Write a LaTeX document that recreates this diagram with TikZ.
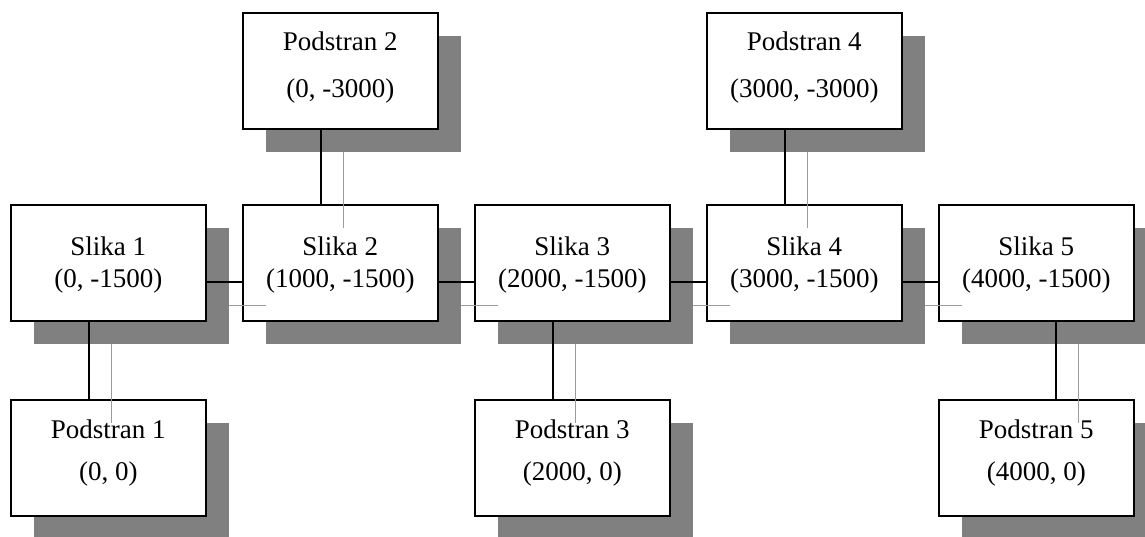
\documentclass[tikz,border=0pt]{standalone}
\usepackage{fontspec}
\setmainfont{Liberation Serif}
\usetikzlibrary{calc}
\definecolor{shadowgray}{HTML}{808080}
\definecolor{linkgray}{HTML}{9C9C9C}
\begin{document}
\begin{tikzpicture}[x=1pt,y=-1pt,
  box/.style={draw=black, line width=1.6pt, fill=white, minimum width=195pt, minimum height=116pt, inner sep=0pt, anchor=north west},
  shadowbox/.style={fill=shadowgray, minimum width=195pt, minimum height=116pt, inner sep=0pt, anchor=north west},
  lbl/.style={anchor=base, font=\fontsize{27}{31}\selectfont, inner sep=0pt},
  link/.style={line width=1.8pt, draw=black},
  slink/.style={line width=1.3pt, draw=linkgray}]
\useasboundingbox (0,0) rectangle (1145,536);
\clip (0,0) rectangle (1145,536);
% shadows
\node[shadowbox] (shp2) at (265.5,35.5) {};
\node[shadowbox] (shp4) at (729.5,35.5) {};
\node[shadowbox] (shs1) at (33.5,227.5) {};
\node[shadowbox] (shs2) at (265.5,227.5) {};
\node[shadowbox] (shs3) at (497.5,227.5) {};
\node[shadowbox] (shs4) at (729.5,227.5) {};
\node[shadowbox] (shs5) at (961.5,227.5) {};
\node[shadowbox] (shp1) at (33.5,422.5) {};
\node[shadowbox] (shp3) at (497.5,422.5) {};
\node[shadowbox] (shp5) at (961.5,422.5) {};
% boxes
\node[box] (p2) at (242,12) {};
\node[box] (p4) at (706,12) {};
\node[box] (s1) at (10,204) {};
\node[box] (s2) at (242,204) {};
\node[box] (s3) at (474,204) {};
\node[box] (s4) at (706,204) {};
\node[box] (s5) at (938,204) {};
\node[box] (p1) at (10,399) {};
\node[box] (p3) at (474,399) {};
\node[box] (p5) at (938,399) {};
% labels
\node[lbl] (p2a) at ($(p2.north)+(0,38.5)$) {Podstran 2};
\node[lbl] (p2b) at ($(p2.north)+(0,85)$) {(0, -3000)};
\node[lbl] (p4a) at ($(p4.north)+(0,38.5)$) {Podstran 4};
\node[lbl] (p4b) at ($(p4.north)+(0,85)$) {(3000, -3000)};
\node[lbl] (s1a) at ($(s1.north)+(0,51.5)$) {Slika 1};
\node[lbl] (s1b) at ($(s1.north)+(0,83.5)$) {(0, -1500)};
\node[lbl] (s2a) at ($(s2.north)+(0,51.5)$) {Slika 2};
\node[lbl] (s2b) at ($(s2.north)+(0,83.5)$) {(1000, -1500)};
\node[lbl] (s3a) at ($(s3.north)+(0,51.5)$) {Slika 3};
\node[lbl] (s3b) at ($(s3.north)+(0,83.5)$) {(2000, -1500)};
\node[lbl] (s4a) at ($(s4.north)+(0,51.5)$) {Slika 4};
\node[lbl] (s4b) at ($(s4.north)+(0,83.5)$) {(3000, -1500)};
\node[lbl] (s5a) at ($(s5.north)+(0,51.5)$) {Slika 5};
\node[lbl] (s5b) at ($(s5.north)+(0,83.5)$) {(4000, -1500)};
\node[lbl] (p1a) at ($(p1.north)+(0,39.5)$) {Podstran 1};
\node[lbl] (p1b) at ($(p1.north)+(0,81.5)$) {(0, 0)};
\node[lbl] (p3a) at ($(p3.north)+(0,39.5)$) {Podstran 3};
\node[lbl] (p3b) at ($(p3.north)+(0,81.5)$) {(2000, 0)};
\node[lbl] (p5a) at ($(p5.north)+(0,39.5)$) {Podstran 5};
\node[lbl] (p5b) at ($(p5.north)+(0,81.5)$) {(4000, 0)};
% shadow connectors
\draw[slink] ($(shs1.east)+(0,19.5)$) -- ($(shs2.west)+(0,19.5)$);
\draw[slink] ($(shs2.east)+(0,19.5)$) -- ($(shs3.west)+(0,19.5)$);
\draw[slink] ($(shs3.east)+(0,19.5)$) -- ($(shs4.west)+(0,19.5)$);
\draw[slink] ($(shs4.east)+(0,19.5)$) -- ($(shs5.west)+(0,19.5)$);
\draw[slink] ($(shs1.south)+(-19.5,0)$) -- ($(shp1.north)+(-19.5,0)$);
\draw[slink] ($(shp2.south)+(-19.5,0)$) -- ($(shs2.north)+(-19.5,0)$);
\draw[slink] ($(shs3.south)+(-19.5,0)$) -- ($(shp3.north)+(-19.5,0)$);
\draw[slink] ($(shp4.south)+(-19.5,0)$) -- ($(shs4.north)+(-19.5,0)$);
\draw[slink] ($(shs5.south)+(19.5,0)$) -- ($(shp5.north)+(19.5,0)$);
% connectors
\draw[link] ($(s1.east)+(0,19.5)$) -- ($(s2.west)+(0,19.5)$);
\draw[link] ($(s2.east)+(0,19.5)$) -- ($(s3.west)+(0,19.5)$);
\draw[link] ($(s3.east)+(0,19.5)$) -- ($(s4.west)+(0,19.5)$);
\draw[link] ($(s4.east)+(0,19.5)$) -- ($(s5.west)+(0,19.5)$);
\draw[link] ($(s1.south)+(-19.5,0)$) -- ($(p1.north)+(-19.5,0)$);
\draw[link] ($(p2.south)+(-19.5,0)$) -- ($(s2.north)+(-19.5,0)$);
\draw[link] ($(s3.south)+(-19.5,0)$) -- ($(p3.north)+(-19.5,0)$);
\draw[link] ($(p4.south)+(-19.5,0)$) -- ($(s4.north)+(-19.5,0)$);
\draw[link] ($(s5.south)+(19.5,0)$) -- ($(p5.north)+(19.5,0)$);
\end{tikzpicture}
\end{document}
